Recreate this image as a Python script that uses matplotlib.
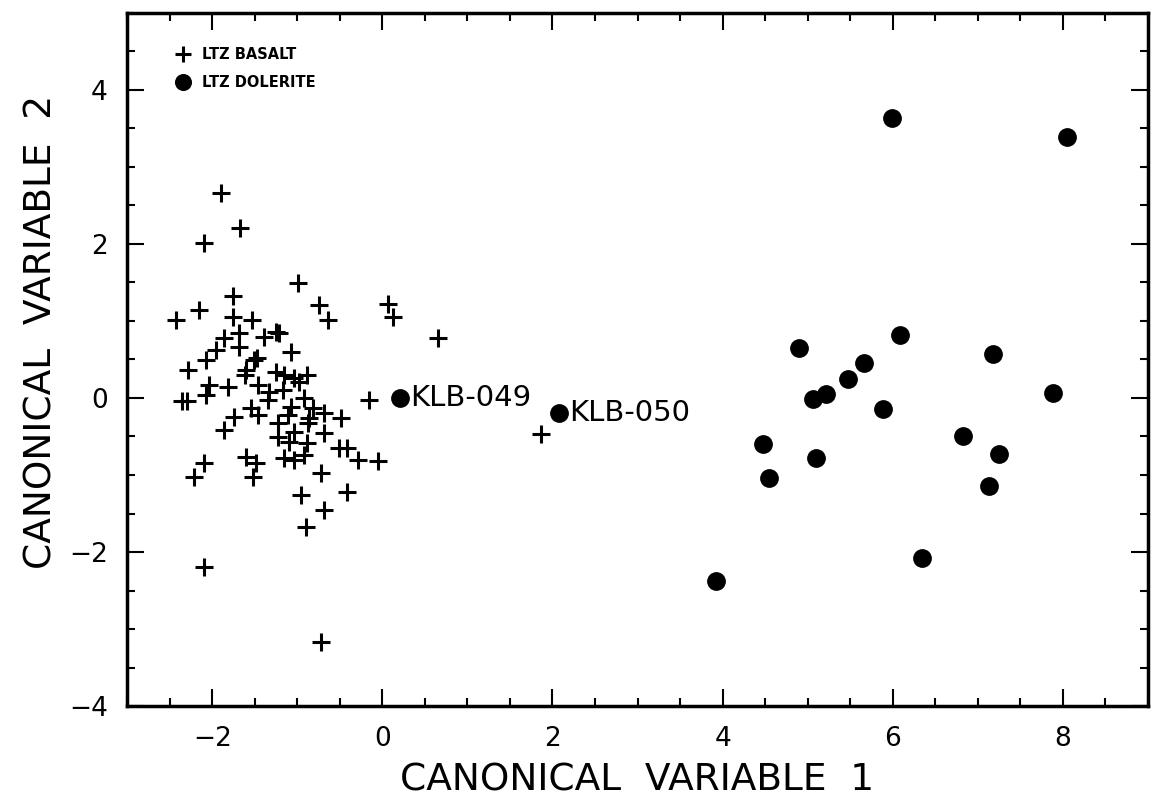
import matplotlib
matplotlib.use("Agg")
import matplotlib.pyplot as plt
from matplotlib.ticker import MultipleLocator

# LTZ basalt (plus markers)
basalt_x = [-1.90, -1.67, -2.10, -0.99, -1.75, -0.74, -0.64, -2.15, -2.42, -1.75, -1.53, -1.86, -1.68,
            -1.39, -1.25, -1.21, -1.69, -1.07, -1.95, -2.07, -1.51, -1.47, -2.28, -1.60, -1.62, -1.25,
            -1.16, -1.04, -0.88, -0.98, -1.46, -2.04, -1.82, -2.07, -1.33, -1.17, -1.34, -0.92, -2.36,
            -2.30, -1.07, -0.82, -1.54, -1.46, -1.74, -1.11, -0.69, -0.49, -0.86, -0.87, -1.86, -1.23,
            -1.04, -1.23, -0.69, -1.10, -0.88, -0.51, -0.41, -1.16, -1.04, -0.92, -1.60, -1.48, -2.10,
            -2.22, -1.52, -0.72, -0.96, -0.41, -2.10, -0.72, -0.90, -0.69, -0.05, -0.29, -0.16, 0.07,
            0.12, 0.65, 1.87]
basalt_y = [2.66, 2.21, 2.01, 1.49, 1.32, 1.21, 1.01, 1.14, 1.01, 1.05, 1.01, 0.78, 0.84,
            0.79, 0.86, 0.84, 0.66, 0.60, 0.62, 0.49, 0.49, 0.52, 0.36, 0.36, 0.30, 0.34,
            0.30, 0.26, 0.30, 0.21, 0.17, 0.17, 0.14, 0.04, 0.08, 0.10, -0.03, 0.00, -0.04,
            -0.04, -0.12, -0.13, -0.13, -0.22, -0.25, -0.22, -0.19, -0.26, -0.26, -0.33, -0.42, -0.32,
            -0.44, -0.51, -0.45, -0.57, -0.58, -0.65, -0.65, -0.78, -0.81, -0.74, -0.77, -0.84, -0.84,
            -1.03, -1.03, -0.97, -1.26, -1.22, -2.19, -3.17, -1.68, -1.45, -0.82, -0.81, -0.03, 1.22,
            1.05, 0.78, -0.47]

# LTZ dolerite (filled circles)
dolerite_x = [5.99, 8.05, 4.90, 6.08, 5.66, 5.47, 5.22, 5.06, 5.89, 7.18, 7.88, 4.47, 5.10,
              4.55, 6.83, 7.25, 7.13, 6.35, 3.92, 0.21, 2.08]
dolerite_y = [3.64, 3.39, 0.65, 0.82, 0.45, 0.25, 0.05, -0.01, -0.14, 0.57, 0.06, -0.60, -0.78,
              -1.04, -0.49, -0.73, -1.14, -2.08, -2.38, 0.00, -0.19]

labelled = {"KLB-049": (0.21, 0.00), "KLB-050": (2.08, -0.19)}

fig = plt.figure(figsize=(11.56, 8.06), dpi=100)
ax = fig.add_axes([0.110, 0.124, 0.883, 0.860])

ax.plot(basalt_x, basalt_y, linestyle="none", marker="+", color="black",
        markersize=13, markeredgewidth=2.2, label="LTZ BASALT")
ax.plot(dolerite_x, dolerite_y, linestyle="none", marker="o", color="black",
        markersize=12.5, label="LTZ DOLERITE")

for name, (px, py) in labelled.items():
    ax.annotate(name, (px, py), xytext=(7, 0), textcoords="offset points",
                ha="left", va="center", fontsize=21)

ax.set_xlim(-3, 9)
ax.set_ylim(-4, 5)
ax.xaxis.set_major_locator(MultipleLocator(2))
ax.xaxis.set_minor_locator(MultipleLocator(0.5))
ax.yaxis.set_major_locator(MultipleLocator(2))
ax.yaxis.set_minor_locator(MultipleLocator(0.5))
ax.tick_params(which="both", direction="in", top=True, right=True, width=1.5)
ax.tick_params(which="major", length=12, labelsize=19, pad=14)
ax.tick_params(which="minor", length=6)
for sp in ax.spines.values():
    sp.set_linewidth(2.5)

ax.set_xlabel("CANONICAL  VARIABLE  1", fontsize=27, labelpad=8)
ax.set_ylabel("CANONICAL  VARIABLE  2", fontsize=27)
ax.yaxis.set_label_coords(-0.066, 0.54)

leg = ax.legend(loc="upper left", bbox_to_anchor=(0.028, 0.97), frameon=False,
                fontsize=10.5, handletextpad=0.3, labelspacing=0.9, markerscale=0.9)
for t in leg.get_texts():
    t.set_fontweight("bold")

fig.savefig("out.png", dpi=100)
